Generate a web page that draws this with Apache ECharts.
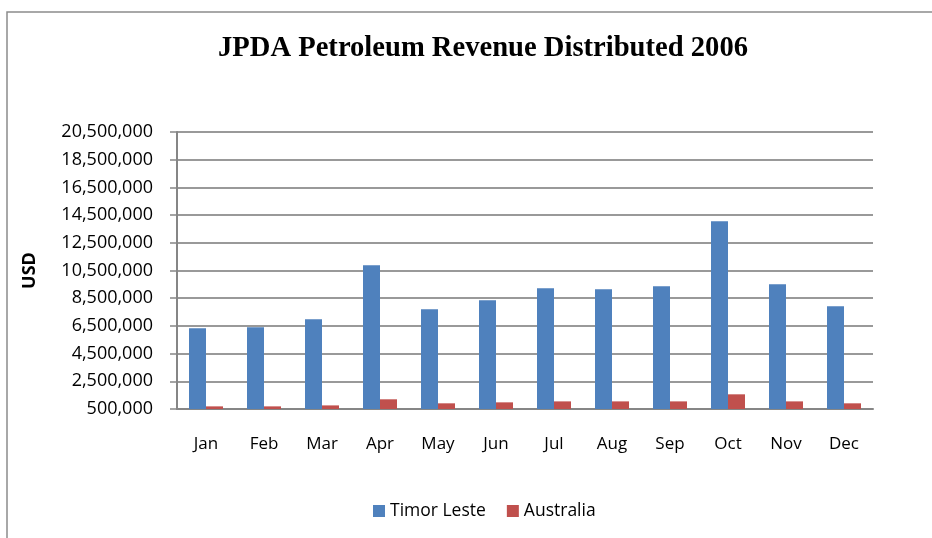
<!DOCTYPE html>
<html lang="en">
<head>
    <meta charset="UTF-8">
    <title>JPDA Petroleum Revenue Distributed 2006</title>
    <script src="https://cdn.jsdelivr.net/npm/echarts@6/dist/echarts.min.js"></script>
</head>
<body style="margin:0">
<div id="main" style="width: 932px;height: 538px;"></div>
</body>
    <script type="text/javascript">
        // values (USD)
        var months = ['Jan', 'Feb', 'Mar', 'Apr', 'May', 'Jun', 'Jul', 'Aug', 'Sep', 'Oct', 'Nov', 'Dec'];
        var timorLeste = [6330000, 6400000, 6980000, 10880000, 7700000, 8350000, 9210000, 9140000, 9360000, 14050000, 9500000, 7920000];
        var australia = [690000, 690000, 760000, 1200000, 910000, 980000, 1050000, 1050000, 1050000, 1560000, 1050000, 910000];

        var myChart = echarts.init(document.getElementById('main'));

        var option = {
            backgroundColor: '#fff',
            animation: false,
            title: {
                text: 'JPDA Petroleum Revenue Distributed 2006',
                left: 213,
                top: 29,
                textStyle: {
                    fontFamily: 'Liberation Serif',
                    fontWeight: 'bold',
                    fontSize: 28.6,
                    color: '#000'
                }
            },
            graphic: [{
                type: 'rect',
                shape: {x: 7, y: 12, width: 960, height: 560},
                style: {fill: 'none', stroke: '#8c8c8c', lineWidth: 1.5}
            }],
            legend: {
                bottom: 13,
                left: 368,
                itemWidth: 12,
                itemHeight: 12,
                itemGap: 21,
                icon: 'rect',
                textStyle: {fontFamily: 'Open Sans', fontSize: 17.5, color: '#000'},
                data: ['Timor Leste', 'Australia']
            },
            grid: {
                left: 177,
                right: 59,
                top: 132,
                bottom: 129
            },
            xAxis: {
                type: 'category',
                data: months,
                axisLine: {lineStyle: {color: '#868686', width: 2}},
                axisTick: {show: false},
                axisLabel: {
                    margin: 27,
                    fontFamily: 'Open Sans',
                    fontSize: 17,
                    color: '#000'
                }
            },
            yAxis: {
                type: 'value',
                name: 'USD',
                nameLocation: 'middle',
                nameGap: 138,
                nameRotate: 90,
                nameTextStyle: {fontFamily: 'Open Sans', fontWeight: 'bold', fontSize: 18, color: '#000'},
                min: 500000,
                max: 20500000,
                interval: 2000000,
                axisLine: {show: true, lineStyle: {color: '#868686', width: 2}},
                axisTick: {show: true, length: 7, lineStyle: {color: '#868686', width: 1.5}},
                axisLabel: {
                    margin: 24,
                    fontFamily: 'Open Sans',
                    fontSize: 18,
                    color: '#000',
                    formatter: function (v) {
                        return v.toLocaleString('en-US');
                    }
                },
                splitLine: {lineStyle: {color: '#999', width: 1.8}}
            },
            series: [{
                name: 'Timor Leste',
                type: 'bar',
                data: timorLeste,
                barWidth: 17,
                barGap: '0%',
                itemStyle: {color: '#4F81BD'}
            }, {
                name: 'Australia',
                type: 'bar',
                data: australia,
                barWidth: 17,
                barGap: '0%',
                itemStyle: {color: '#C0504D'}
            }]
        };
        myChart.setOption(option);
    </script>
</html>
